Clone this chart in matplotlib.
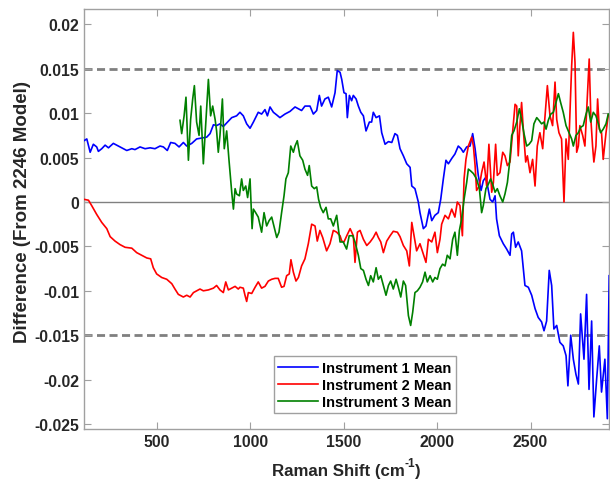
import matplotlib
matplotlib.use("Agg")
import matplotlib.pyplot as plt
from matplotlib.transforms import IdentityTransform

plt.rcParams['font.family'] = ['Liberation Sans', 'DejaVu Sans']
plt.rcParams['font.weight'] = 'bold'

# Instrument 1 mean difference
x1 = [109,124,142,159,177,186,204,222,240,266,293,320,338,365,382,409,436,463,489,516,
      534,555,573,596,618,641,659,686,712,739,766,784,802,819,837,855,873,900,926,944,
      962,980,998,1016,1042,1060,1078,1091,1105,1123,1141,1158,1185,1212,1239,1257,1274,1292,1319,1337,
      1355,1369,1381,1399,1417,1435,1453,1465,
      1480,1489,1501,1512,1519,1530,1542,1551,1566,1578,1591,1605,1619,1637,1649,1658,1673,1691,1703,1721,
      1739,1757,1774,1787,1801,1819,1837,1855,1864,1881,1899,1908,1926,1940,1958,1971,1988,2006,2019,2033,
      2047,2060,2078,2095,2113,2128,2140,2158,2176,2190,2203,2220,2235,2247,2261,2274,2283,2297,2310,
      2318,2333,2354,2372,2390,2399,2408,2420,2434,2452,2470,2488,2506,2524,2541,2559,2572,2586,2600,2613,
      2625,2640,2657,2675,2690,2700,2715,2729,2743,2756,2768,2786,2800,2813,2827,2839,2854,2868,2880,2898,
      2911,2921]
y1 = [0.0069,0.0071,0.0056,0.0065,0.0062,0.0057,0.0060,0.0064,0.0061,0.0066,0.0063,0.0060,0.0058,0.0060,0.0059,0.0062,0.0060,0.0061,0.0060,0.0063,
      0.0062,0.0058,0.0067,0.0066,0.0062,0.0067,0.0063,0.0066,0.0071,0.0072,0.0073,0.0077,0.0087,0.0086,0.0088,0.0085,0.0089,0.0095,0.0097,0.0101,
      0.0097,0.0088,0.0083,0.0090,0.0101,0.0099,0.0104,0.0097,0.0107,0.0101,0.0098,0.0095,0.0099,0.0102,0.0107,0.0105,0.0103,0.0108,0.0108,0.0099,
      0.0103,0.0120,0.0108,0.0116,0.0118,0.0107,0.0123,0.0148,
      0.0146,0.0138,0.0123,0.0122,0.0095,0.0120,0.0114,0.0120,0.0116,0.0108,0.0101,0.0097,0.0080,0.0090,0.0090,0.0101,0.0095,0.0097,0.0078,0.0065,
      0.0068,0.0067,0.0077,0.0075,0.0060,0.0052,0.0043,0.0039,0.0018,0.0015,0.0000,-0.0012,-0.0030,-0.0027,-0.0008,-0.0021,-0.0015,-0.0012,0.0003,0.0026,
      0.0047,0.0043,0.0049,0.0054,0.0063,0.0060,0.0056,0.0062,0.0063,0.0077,0.0060,0.0030,0.0013,0.0024,0.0028,0.0013,0.0003,0.0000,0.0007,
      -0.0019,-0.0038,-0.0047,-0.0053,-0.0060,-0.0036,-0.0034,-0.0051,-0.0045,-0.0055,-0.0094,-0.0096,-0.0105,-0.0120,-0.0130,-0.0135,-0.0145,-0.0134,-0.0077,-0.0094,
      -0.0143,-0.0139,-0.0158,-0.0162,-0.0173,-0.0207,-0.0150,-0.0177,-0.0194,-0.0205,-0.0126,-0.0177,-0.0104,-0.0211,-0.0134,-0.0242,-0.0199,-0.0162,-0.0214,-0.0177,
      -0.0244,-0.0083]

# Instrument 2 mean difference
x2 = [109,133,150,177,204,231,249,275,302,329,365,391,418,445,466,480,498,525,552,579,
      596,614,641,659,677,695,712,730,748,775,802,819,837,855,868,882,900,918,935,944,
      962,971,980,989,1007,1025,1042,1060,1078,1096,1114,1132,1149,1167,1180,1194,1208,1217,1230,1244,
      1257,1274,1292,1310,1328,1346,1358,1372,1387,1408,1426,1444,1462,1480,
      1489,1501,1516,1534,1551,1560,1573,1587,1605,1623,1641,1658,1673,1685,1698,1712,1730,1748,1765,1787,
      1801,1819,1837,1851,1864,1876,1890,1908,1926,1940,1953,1971,1988,2001,2015,2024,2042,2060,2078,2095,
      2108,2122,2135,
      2144,2154,2167,2185,2194,2203,2211,2226,2238,2251,2265,2277,2292,2301,2313,2322,2336,2351,2363,2376,
      2390,2404,2417,2426,2434,2443,2452,2461,2474,2483,2497,2511,2524,2536,2550,2565,2575,2590,2604,2618,
      2631,2640,2652,2666,2679,2690,2702,2711,2720,2729,2738,2747,2756,2764,2779,2791,2800,2814,2823,2832,
      2839,2850,2859,2868,2880,2889,2904,2916]
y2 = [0.0003,0.0002,-0.0004,-0.0014,-0.0023,-0.0030,-0.0039,-0.0044,-0.0048,-0.0051,-0.0052,-0.0057,-0.0060,-0.0063,-0.0064,-0.0074,-0.0081,-0.0085,-0.0087,-0.0092,
      -0.0098,-0.0104,-0.0107,-0.0105,-0.0107,-0.0102,-0.0100,-0.0098,-0.0100,-0.0099,-0.0097,-0.0094,-0.0099,-0.0102,-0.0090,-0.0099,-0.0097,-0.0095,-0.0098,-0.0096,
      -0.0097,-0.0105,-0.0112,-0.0102,-0.0103,-0.0096,-0.0090,-0.0097,-0.0095,-0.0089,-0.0087,-0.0086,-0.0086,-0.0096,-0.0095,-0.0083,-0.0081,-0.0065,-0.0079,-0.0089,
      -0.0085,-0.0072,-0.0064,-0.0047,-0.0025,-0.0027,-0.0044,-0.0032,-0.0040,-0.0055,-0.0047,-0.0032,-0.0034,-0.0038,
      -0.0044,-0.0045,-0.0038,-0.0030,-0.0038,-0.0068,-0.0034,-0.0032,-0.0042,-0.0049,-0.0045,-0.0040,-0.0034,-0.0040,-0.0045,-0.0057,-0.0044,-0.0038,-0.0033,-0.0034,
      -0.0039,-0.0049,-0.0055,-0.0072,-0.0023,-0.0038,-0.0055,-0.0047,-0.0059,-0.0068,-0.0042,-0.0045,-0.0034,-0.0057,-0.0042,-0.0025,-0.0015,-0.0019,-0.0008,-0.0017,
      0.0000,-0.0004,-0.0038,
      0.0026,0.0048,0.0063,0.0073,0.0063,0.0041,0.0013,0.0018,0.0033,0.0045,0.0018,0.0065,0.0011,0.0022,0.0065,0.0030,0.0033,0.0056,0.0052,0.0041,
      0.0045,0.0078,0.0110,0.0108,0.0052,0.0086,0.0112,0.0082,0.0045,0.0052,0.0033,0.0048,0.0018,0.0063,0.0078,0.0060,0.0090,0.0131,0.0097,0.0086,
      0.0135,0.0093,0.0078,0.0071,0.0000,0.0071,0.0048,0.0101,0.0153,0.0191,0.0157,0.0056,0.0063,0.0086,0.0075,0.0063,0.0101,0.0161,0.0093,0.0063,
      0.0045,0.0063,0.0116,0.0082,0.0078,0.0048,0.0078,0.0098]

# Instrument 3 mean difference
x3 = [623,632,645,655,668,680,691,700,712,725,734,748,757,766,775,787,798,811,819,828,
      837,850,860,873,885,900,909,918,926,941,953,962,975,985,998,1009,1016,1028,1042,1060,
      1073,1087,1100,1114,1126,1141,1153,1167,1180,1190,1203,1216,1230,1239,1251,1265,1280,1292,1306,1315,
      1328,1342,1355,1365,1376,1390,1405,1417,1430,1444,1462,1480,1497,1515,1529,
      1548,1560,1578,1591,1605,1619,1632,1644,1658,1673,1685,1698,1712,1726,1739,1751,1765,1780,1792,1805,
      1819,1831,1846,1858,1869,1881,1894,1908,1922,1935,1947,1962,1976,1988,2001,2015,2029,2042,2054,2069,
      2083,2095,2108,2119,2131,2144,
      2158,2167,2179,2194,2211,2226,2238,2247,2261,2274,2286,2297,2310,2322,2336,2351,2363,2376,2386,2399,
      2411,2426,2440,2452,2465,2479,2492,2506,2518,2533,2545,2559,2572,2583,2595,2608,2622,2636,2649,2661,
      2675,2690,2702,2720,2729,2743,2756,2768,2782,2797,2809,2822,2836,2850,2863,2875,2889,2904,2916]
y3 = [0.0092,0.0077,0.0097,0.0118,0.0047,0.0093,0.0116,0.0131,0.0090,0.0075,0.0108,0.0043,0.0075,0.0105,0.0138,0.0097,0.0108,0.0093,0.0080,0.0056,
      0.0075,0.0116,0.0060,0.0080,0.0048,0.0011,-0.0008,0.0015,0.0009,0.0007,0.0026,0.0013,0.0018,0.0005,0.0026,-0.0030,-0.0008,-0.0012,-0.0017,-0.0034,
      -0.0012,-0.0027,-0.0021,-0.0017,-0.0027,-0.0040,-0.0034,-0.0012,0.0007,0.0026,0.0033,0.0063,0.0056,0.0063,0.0069,0.0052,0.0047,0.0037,0.0030,0.0041,
      0.0018,0.0015,0.0017,0.0003,-0.0006,-0.0012,-0.0006,-0.0019,-0.0019,-0.0027,-0.0015,-0.0045,-0.0045,-0.0053,-0.0038,
      -0.0038,-0.0045,-0.0060,-0.0075,-0.0077,-0.0087,-0.0094,-0.0083,-0.0090,-0.0074,-0.0087,-0.0083,-0.0094,-0.0105,-0.0094,-0.0089,-0.0098,-0.0087,-0.0096,-0.0107,
      -0.0089,-0.0094,-0.0128,-0.0139,-0.0124,-0.0102,-0.0100,-0.0096,-0.0090,-0.0079,-0.0090,-0.0083,-0.0090,-0.0085,-0.0087,-0.0075,-0.0070,-0.0072,-0.0060,-0.0064,
      -0.0042,-0.0034,-0.0060,-0.0032,-0.0019,0.0003,
      0.0022,0.0037,0.0035,0.0032,0.0026,0.0015,-0.0012,-0.0004,0.0015,0.0020,0.0026,0.0020,0.0011,0.0015,0.0007,0.0000,0.0009,0.0022,0.0041,0.0075,
      0.0080,0.0090,0.0105,0.0093,0.0077,0.0063,0.0065,0.0069,0.0088,0.0095,0.0092,0.0088,0.0090,0.0082,0.0092,0.0099,0.0101,0.0112,0.0122,0.0112,
      0.0101,0.0086,0.0080,0.0071,0.0063,0.0075,0.0078,0.0084,0.0086,0.0099,0.0107,0.0090,0.0101,0.0097,0.0088,0.0078,0.0082,0.0088,0.0099]

limit = 0.015
yticks = [-0.025, -0.02, -0.015, -0.01, -0.005, 0, 0.005, 0.01, 0.015, 0.02]
ytick_labels = ['-0.025', '-0.02', '-0.015', '-0.01', '-0.005', '0', '0.005', '0.01', '0.015', '0.02']
xticks = [500, 1000, 1500, 2000, 2500]

tick_fs = 11.3
label_fs = 12.2
ink = '#262626'

fig = plt.figure(figsize=(6.1, 4.81), dpi=100)
ax = fig.add_axes([84/610, 51/481, 525/610, 420/481])

# zero line and +/- limit lines
ax.axhline(0, color='#808080', lw=1.0, zorder=1)
ax.axhline(limit, color='#808080', lw=2.0, ls=(0, (2.9, 1.6)), zorder=1)
ax.axhline(-limit, color='#808080', lw=2.0, ls=(0, (2.9, 1.6)), zorder=1)

ax.plot(x1, y1, color='#0000ff', lw=1.2, label='Instrument 1 Mean', zorder=3)
ax.plot(x2, y2, color='#ff0000', lw=1.2, label='Instrument 2 Mean', zorder=3)
ax.plot(x3, y3, color='#008000', lw=1.2, label='Instrument 3 Mean', zorder=3)

ax.set_xlim(109, 2920)
ax.set_ylim(-0.02556, 0.02173)
ax.set_xticks(xticks)
ax.set_yticks(yticks)
ax.set_yticklabels(ytick_labels)
ax.tick_params(direction='in', top=True, right=True, length=5, width=0.8,
               color='#a0a0a0', labelsize=tick_fs, labelcolor=ink)
for s in ax.spines.values():
    s.set_color('#a0a0a0')
    s.set_linewidth(1.0)

ax.set_ylabel('Difference (From 2246 Model)', fontsize=13.5, fontweight='bold', color=ink)
ax.yaxis.set_label_coords(-0.101, 0.52)

# x label with a plain hyphen in the superscript, pieced together in pixels
r = fig.canvas.get_renderer()
parts = [('Raman Shift (cm', label_fs, 5), ('-1', label_fs * 0.7, 14), (')', label_fs, 5)]
texts = [fig.text(0, base, s, fontsize=size, fontweight='bold', color=ink,
                  transform=IdentityTransform(), va='baseline', ha='left')
         for s, size, base in parts]
widths = [t.get_window_extent(r).width for t in texts]
xpos = (84 + 609) / 2 - sum(widths) / 2
for t, w in zip(texts, widths):
    t.set_x(xpos)
    xpos += w

leg = ax.legend(loc='lower left', bbox_to_anchor=(0.362, 0.038), borderaxespad=0,
                fancybox=False, framealpha=1, edgecolor='#a0a0a0', fontsize=10.5,
                handlelength=2.7, handletextpad=0.3, borderpad=0.3, labelspacing=0.2)
leg.get_frame().set_linewidth(1.0)

fig.savefig('out.png', dpi=100)
